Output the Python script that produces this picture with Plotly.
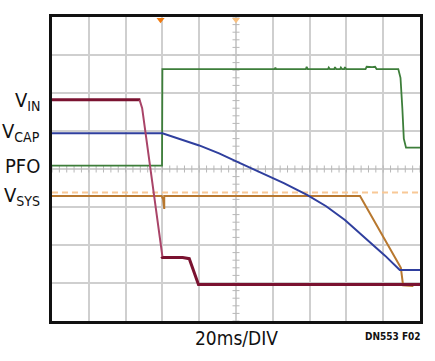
import numpy as np
import plotly.graph_objects as go

# Oscilloscope traces, x in divisions (20ms/DIV), y in divisions (0 = bottom)
vin_x = [0.0, 2.40, None, 2.98, 3.00, 3.55, 3.73, 3.98, 10.0]
vin_y = [5.82, 5.82, None, 1.70, 1.67, 1.67, 1.64, 0.96, 0.96]
vin_fall_x = [2.38, 2.45, 3.00]
vin_fall_y = [5.82, 5.60, 1.70]

vcap_x = [0.0, 3.0, 4.0, 4.54, 5.08, 5.62, 6.30, 6.93, 7.45, 7.96, 8.59, 9.05, 9.45, 10.0]
vcap_y = [4.94, 4.94, 4.62, 4.41, 4.17, 3.93, 3.63, 3.32, 3.02, 2.66, 2.13, 1.72, 1.34, 1.34]

pfo_x = [0.0, 2.99, 3.0, 6.05, 6.07, 6.09, 6.90, 6.92, 6.95, 7.50, 7.52, 7.55, 7.67, 7.69, 7.72,
         7.83, 7.85, 7.88, 7.94, 7.96, 7.99, 8.52, 8.55, 8.60, 8.65, 8.70, 8.78, 8.82, 9.41, 9.47,
         9.52, 9.56, 9.62, 10.0]
pfo_y = [4.09, 4.09, 6.63, 6.63, 6.67, 6.63, 6.63, 6.69, 6.63, 6.63, 6.67, 6.63, 6.63, 6.68, 6.63,
         6.63, 6.67, 6.63, 6.63, 6.68, 6.63, 6.63, 6.69, 6.68, 6.69, 6.68, 6.69, 6.63, 6.63, 6.40,
         5.60, 4.80, 4.56, 4.56]

vsys_x = [0.0, 2.98, 3.02, 3.05, 3.05, 8.37, 9.41, 9.48, 9.54, 9.82]
vsys_y = [3.29, 3.29, 3.20, 2.95, 3.29, 3.29, 1.52, 1.40, 0.94, 0.92]

ref_x = [0.0, 10.0]
ref_y = [3.38, 3.38]

trig_x = [2.95, 5.0]
trig_colors = ["#F07A10", "#F8C080"]

labels = ["V<sub>IN</sub>", "V<sub>CAP</sub>", "PFO", "V<sub>SYS</sub>"]
label_y = [5.80, 4.98, 4.08, 3.30]

C_VIN = "#7A1230"
C_VIN_FALL = "#A94468"
C_VCAP = "#2F3F9E"
C_PFO = "#3D7E3A"
C_VSYS = "#B8782F"
C_REF = "#F8C896"
GRID = "#CFCFCF"
FONT = "Liberation Sans Narrow, Arial Narrow, DejaVu Sans Condensed, sans-serif"

fig = go.Figure()

# center graticule ticks
tk = np.arange(0, 10.001, 0.2)
fig.add_trace(go.Scatter(x=tk, y=np.full_like(tk, 4.0), mode="markers",
                         marker=dict(symbol="line-ns", size=5, line=dict(width=1, color="#B8B8B8")),
                         hoverinfo="skip", showlegend=False))
tv = np.arange(0, 8.001, 0.2)
fig.add_trace(go.Scatter(x=np.full_like(tv, 5.0), y=tv, mode="markers",
                         marker=dict(symbol="line-ew", size=5, line=dict(width=1, color="#B8B8B8")),
                         hoverinfo="skip", showlegend=False))

fig.add_trace(go.Scatter(x=ref_x, y=ref_y, mode="lines",
                         line=dict(color=C_REF, width=2, dash="6px,4px"), showlegend=False))
fig.add_trace(go.Scatter(x=vsys_x, y=vsys_y, mode="lines",
                         line=dict(color=C_VSYS, width=2), showlegend=False))
fig.add_trace(go.Scatter(x=pfo_x, y=pfo_y, mode="lines",
                         line=dict(color=C_PFO, width=1.8), showlegend=False))
fig.add_trace(go.Scatter(x=vcap_x, y=vcap_y, mode="lines",
                         line=dict(color=C_VCAP, width=2), showlegend=False))
fig.add_trace(go.Scatter(x=vin_x, y=vin_y, mode="lines", connectgaps=False,
                         line=dict(color=C_VIN, width=3), showlegend=False))
fig.add_trace(go.Scatter(x=vin_fall_x, y=vin_fall_y, mode="lines",
                         line=dict(color=C_VIN_FALL, width=2), showlegend=False))

fig.add_trace(go.Scatter(x=trig_x, y=[7.93, 7.93], mode="markers",
                         marker=dict(symbol="triangle-down", size=7, color=trig_colors),
                         cliponaxis=False, showlegend=False))

for t, yv in zip(labels, label_y):
    fig.add_annotation(x=-0.027, xref="paper", y=yv, yref="y", text=t, showarrow=False,
                       xanchor="right", yanchor="middle",
                       font=dict(family=FONT, size=20, color="#111111"))

fig.add_annotation(x=0.5, xref="paper", y=-0.012, yref="paper", text="20ms/DIV", showarrow=False,
                   xanchor="center", yanchor="top", font=dict(family=FONT, size=19, color="#111111"))
fig.add_annotation(x=1.0, xref="paper", y=-0.025, yref="paper", text="<b>DN553 F02</b>", showarrow=False,
                   xanchor="right", yanchor="top", xshift=3,
                   font=dict(family=FONT, size=10, color="#111111"))

fig.update_xaxes(range=[0, 10], dtick=1, showgrid=True, gridcolor=GRID, gridwidth=1.5,
                 showticklabels=False, ticks="", zeroline=False,
                 showline=True, mirror=True, linecolor="#111111", linewidth=2.5)
fig.update_yaxes(range=[0, 8], dtick=1, showgrid=True, gridcolor=GRID, gridwidth=1.5,
                 showticklabels=False, ticks="", zeroline=False,
                 showline=True, mirror=True, linecolor="#111111", linewidth=2.5)

fig.update_layout(width=435, height=361, margin=dict(l=52, r=13, t=17, b=40),
                  paper_bgcolor="white", plot_bgcolor="white", showlegend=False)

fig.write_html("out.html")
